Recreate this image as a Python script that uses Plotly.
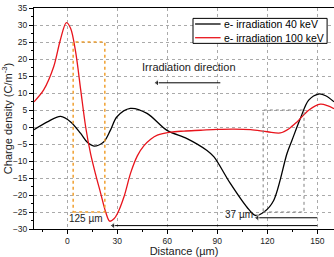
import plotly.graph_objects as go

# Data
x_40 = [-20, -12, -4, 2, 8, 12, 16, 21.8, 25.8, 29.8, 37.8, 47.8, 59.8, 71.8, 83.8,
        88, 97.8, 107.8, 112.8, 118, 123.8, 131.8, 134.8, 139.8, 144.8, 150.8, 155, 160]
y_40 = [-0.8, 1.5, 3.1, 1.5, -1.9, -4.5, -5.6, -4.4, -1.0, 3.0, 5.45, 4.0, -1.0, -3.4, -6.9,
        -8.8, -16.6, -23.6, -26.0, -25.0, -21.6, -7.8, -3.9, 2.5, 7.9, 9.7, 9.2, 7.4]

x_100 = [-20, -14.2, -8.2, -4.2, -0.6, 2, 5, 8, 11, 14, 17, 20, 23, 25.4, 28, 30, 34,
         38, 42, 46, 50, 54, 62, 70, 80, 90, 100, 110, 120, 127.8, 133, 137.8,
         145, 151.8, 156, 160]
y_100 = [7.4, 10.9, 17.7, 25.6, 30.7, 29.0, 22.0, 11.0, 0.0, -8.0, -14.0, -19.5, -25.0, -27.7, -27.0,
         -25.5, -20.5, -13.5, -8.5, -5.5, -3.6, -2.4, -1.5, -1.2, -0.95, -0.7, -0.6, -0.8, -1.4,
         -1.75, -0.5, 1.5, 5.0, 6.7, 6.3, 5.4]

names = ["e- irradiation 40 keV", "e- irradiation 100 keV"]
colors = ["#000000", "#e8141c"]

x_ticks = [0, 30, 60, 90, 120, 150]
y_ticks = list(range(-30, 40, 5))

# Annotation arrows: (x_start, x_end, y)
arrow_specs = [(91.8, 53.8, 13), (150, 27.5, -29), (150, 114, -26.7)]

fig = go.Figure()
fig.add_trace(go.Scatter(x=x_40, y=y_40, mode="lines", name=names[0], showlegend=False,
                         line=dict(color=colors[0], width=1.3, shape="spline", smoothing=0.9)))
fig.add_trace(go.Scatter(x=x_100, y=y_100, mode="lines", name=names[1], showlegend=False,
                         line=dict(color=colors[1], width=1.3, shape="spline", smoothing=0.9)))

# Arrows as line + triangle head
for xs, xe, yy in arrow_specs:
    fig.add_trace(go.Scatter(x=[xs, xe], y=[yy, yy], mode="lines+markers", showlegend=False,
                             hoverinfo="skip",
                             line=dict(color="#000000", width=1),
                             marker=dict(symbol="triangle-left", size=[0, 6], color="#000000")))

# Rectangles
fig.add_shape(type="rect", x0=3.5, x1=22.5, y0=-25, y1=25, xref="x", yref="y",
              line=dict(color="#f0a030", width=1.5, dash="dot"))
fig.add_shape(type="rect", x0=117.5, x1=142, y0=-25, y1=5, xref="x", yref="y",
              line=dict(color="#808080", width=1, dash="dot"))

# Texts
fig.add_annotation(x=72.8, y=17.6, text="Irradiation direction", showarrow=False,
                   font=dict(size=11, color="#222222"), xref="x", yref="y")
fig.add_annotation(x=11.4, y=-27, text="125 µm", showarrow=False,
                   font=dict(size=10, color="#222222"), xref="x", yref="y")
fig.add_annotation(x=102.8, y=-25.8, text="37 µm", showarrow=False,
                   font=dict(size=10, color="#222222"), xref="x", yref="y")

# Manual legend (paper coords)
fig.add_shape(type="rect", xref="paper", yref="paper", x0=0.53, x1=0.977, y0=0.840, y1=0.953,
              line=dict(color="#000000", width=1), fillcolor="white", layer="above")
leg_y = [0.9276, 0.8656]
for name, col, yy in zip(names, colors, leg_y):
    fig.add_shape(type="line", xref="paper", yref="paper", x0=0.537, x1=0.622, y0=yy, y1=yy,
                  line=dict(color=col, width=1.3), layer="above")
    fig.add_annotation(xref="paper", yref="paper", x=0.628, y=yy, xanchor="left", yanchor="middle",
                       text=name, showarrow=False, font=dict(size=10.5, color="#000000"))

fig.update_layout(
    width=334, height=257,
    margin=dict(l=34, r=0, t=8, b=28),
    paper_bgcolor="white", plot_bgcolor="white",
    font=dict(family="Liberation Sans, Arial, sans-serif", size=8.5, color="#222222"),
    showlegend=False,
    xaxis=dict(range=[-20, 160], tickmode="array", tickvals=x_ticks,
               showgrid=True, gridcolor="#aaaaaa", griddash="dot", gridwidth=1,
               showline=True, linecolor="#000000", linewidth=1, mirror=True,
               ticks="outside", ticklen=4, tickcolor="#000000", zeroline=False,
               minor=dict(dtick=15, tick0=0, ticks="outside", ticklen=2, tickcolor="#000000", showgrid=False),
               title=dict(text="Distance (µm)", font=dict(size=11), standoff=1)),
    yaxis=dict(range=[-30, 35], tickmode="array", tickvals=y_ticks,
               showgrid=True, gridcolor="#aaaaaa", griddash="dot", gridwidth=1,
               showline=True, linecolor="#000000", linewidth=1, mirror=True,
               ticks="outside", ticklen=4, tickcolor="#000000", zeroline=False,
               minor=dict(dtick=2.5, tick0=0, ticks="outside", ticklen=2, tickcolor="#000000", showgrid=False),
               title=dict(text="Charge density (C/m<sup>-3</sup>)", font=dict(size=11), standoff=1)),
)

fig.write_html("out.html")
